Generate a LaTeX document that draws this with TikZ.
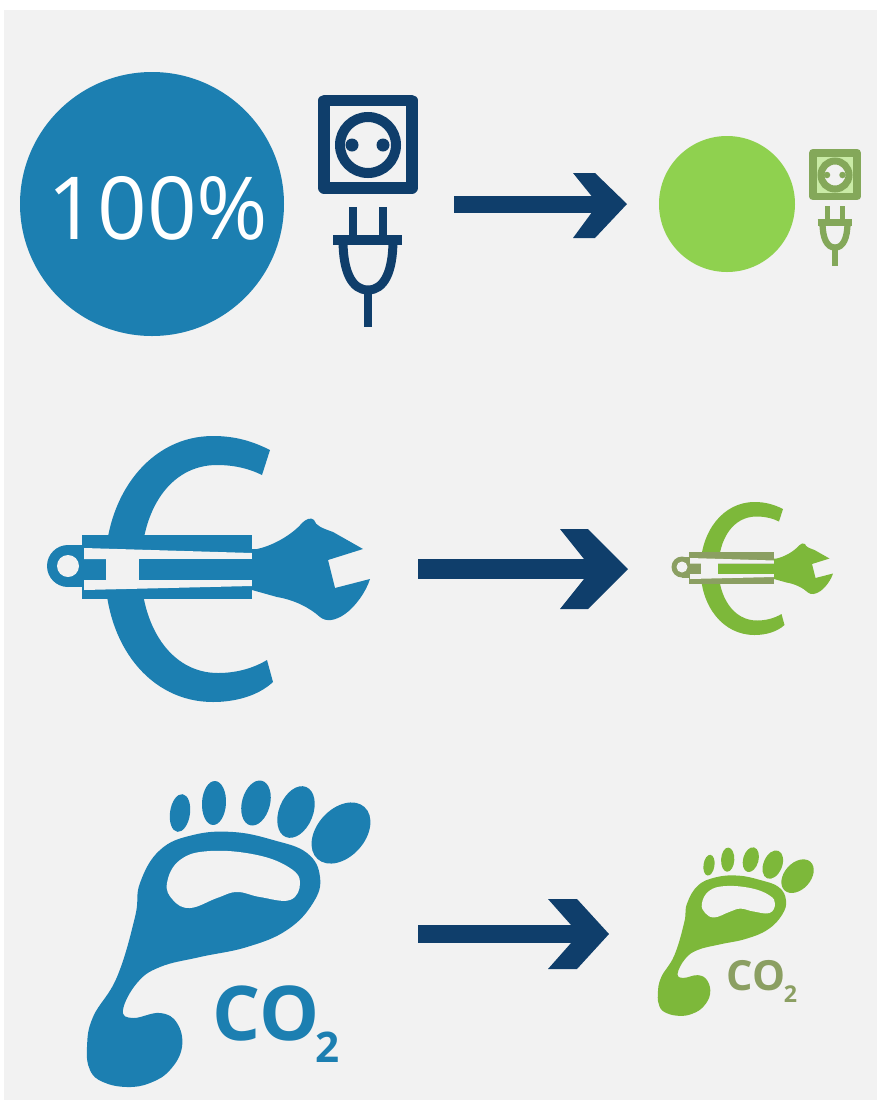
\documentclass[tikz,border=0pt]{standalone}
\usepackage{fontspec}
\setsansfont{Open Sans}

\definecolor{panelgray}{HTML}{F2F2F2}
\definecolor{iconblue}{HTML}{1C7FB1}
\definecolor{navyblue}{HTML}{0F3E6B}
\definecolor{leafgreen}{HTML}{7DB83A}
\definecolor{lightgreen}{HTML}{8FD14F}
\definecolor{olivetext}{HTML}{8B9F62}
\definecolor{palegreen}{HTML}{84A85A}
\definecolor{socketgreen}{HTML}{C9EBA6}

\tikzset{
    flow/.style={draw=navyblue,line cap=butt},
    flowhead/.style={fill=navyblue,draw=none},
}

% socket and plug, #1 colour, #2 size, #3 socket fill
\newcommand{\socketplug}[3]{
    \draw[#1,fill=#3,line width=#2*6.3pt,line join=round](324,100.5) rectangle (412,188);
    \draw[#1,fill=panelgray,line width=#2*5.7pt](368,145) circle (28);
    \fill[#1](352,145) circle (6.5);
    \fill[#1](383,145) circle (6.5);
    \draw[#1,line width=#2*4.8pt](353,207) -- (353,240);
    \draw[#1,line width=#2*4.8pt](383,207) -- (383,240);
    \draw[#1,line width=#2*5.4pt](333,240) -- (402,240);
    \draw[#1,line width=#2*5.1pt](343,240) .. controls (343,272) and (352,290) .. (368,290) .. controls (384,290) and (393,272) .. (393,240);
    \draw[#1,line width=#2*5.1pt](368,288) -- (368,327);
}

% euro sign with spanner, #1 colour, #2 handle colour
\newcommand{\eurowrench}[2]{
    \fill[#1](270,450) .. controls (252,441) and (235,436) .. (213,436) .. controls (150,436) and (105,495) .. (105,569) .. controls (105,645) and (150,702) .. (213,702) .. controls (235,702) and (258,696) .. (273,682) -- (267,660) .. controls (252,669) and (235,673) .. (218,673) .. controls (170,673) and (141,625) .. (141,569) .. controls (141,510) and (170,465) .. (217,465) .. controls (235,465) and (250,469) .. (262,475) -- cycle;
    \fill[#2](82,535) rectangle (252,599);
    \fill[#2](68,566) circle (21);
    \fill[#2](68,545) rectangle (84,587);
    \fill[panelgray](68,566) circle (11);
    % gaps in the handle
    \fill[panelgray](84,548) -- (252,553) -- (252,559) -- (84,559) -- cycle;
    \fill[panelgray](84,580) -- (252,580) -- (252,586) -- (84,590) -- cycle;
    \fill[panelgray](106,555) rectangle (139,584);
    \fill[#1](139,559) rectangle (253,580);
    % head
    \fill[#1](252,549) -- (257,549) .. controls (272,546) and (292,535) .. (302,523) .. controls (306,519) and (311,517) .. (314,520) .. controls (316,526) and (322,528) .. (333,532) -- (363,549) -- (328,560) -- (335,588) -- (370,579) .. controls (366,592) and (355,607) .. (345,614) .. controls (335,621) and (326,622) .. (320,617) .. controls (310,608) and (295,600) .. (277,597) -- (252,590) -- cycle;
}

% foot print, #1 colour, #2 text colour
\newcommand{\footprint}[2]{
    \fill[#1] plot[smooth cycle,tension=0.7] coordinates {(127,1087) (103,1082) (90,1070) (87,1047) (93,1017) (117,977) (135,917) (140,883) (160,850) (193,835) (233,832) (273,840) (307,853) (320,877) (313,903) (287,930) (247,947) (200,957) (160,967) (137,983) (123,1010) (133,1018) (160,1013) (177,1023) (182,1047) (170,1070) (150,1083)};
    \fill[panelgray] plot[smooth cycle,tension=0.7] coordinates {(167,883) (180,860) (210,851) (257,855) (290,868) (300,883) (290,900) (260,897) (237,892) (217,898) (190,908) (173,900)};
    % toes
    \fill[#1](180,813) ellipse [x radius=10,y radius=19,rotate=-8];
    \fill[#1](214,803) ellipse [x radius=12,y radius=22,rotate=-3];
    \fill[#1](256,803) ellipse [x radius=14,y radius=23,rotate=-15];
    \fill[#1](296,812) ellipse [x radius=17,y radius=27,rotate=-22];
    \fill[#1](341,833) ellipse [x radius=24,y radius=35,rotate=-42];
    \node[#2,font=\sffamily\bfseries\fontsize{43}{43}\selectfont,transform shape,inner sep=0pt] (co) at (266,1013) {CO};
    \node[#2,font=\sffamily\bfseries\fontsize{24}{24}\selectfont,transform shape,inner sep=0pt] (two) at (328,1047) {2};
}

\begin{document}
\begin{tikzpicture}[x=0.02cm,y=-0.02cm]

    \useasboundingbox (0,0) rectangle (877,1103);
    \fill[panelgray](4,10) rectangle (877,1100);

    % power row
    \fill[iconblue](152,204) circle (132);
    \node[white,font=\sffamily\fontsize{49.5}{50}\selectfont,inner sep=0pt] (percent) at (158,208) {100\%};
    \socketplug{navyblue}{1}{panelgray}
    \fill[lightgreen](727,204) circle (68);
    \begin{scope}[shift={(651,102.5)},scale=0.5]
        \socketplug{palegreen}{0.7}{socketgreen}
    \end{scope}
    \coordinate (powerstart) at (454,204.5);
    \coordinate (powerneck) at (603,204.5);
    \coordinate (powerend) at (627,204);
    \draw[flow,line width=9.7pt] (powerstart) -- (powerneck);
    \fill[flowhead] (powerend) -- ++(-32,-31) -- ++(-22,0) -- ++(25,31) -- ++(-25,34) -- ++(22,0) -- cycle;

    % cost row
    \eurowrench{iconblue}{iconblue}
    \begin{scope}[shift={(648,284)},scale=0.5]
        \eurowrench{leafgreen}{olivetext}
    \end{scope}
    \coordinate (coststart) at (418,569);
    \coordinate (costneck) at (600,569);
    \coordinate (costend) at (628,569);
    \draw[flow,line width=11.4pt] (coststart) -- (costneck);
    \fill[flowhead] (costend) -- ++(-40,-40) -- ++(-28,0) -- ++(32,40) -- ++(-32,40) -- ++(28,0) -- cycle;

    % carbon row
    \begin{scope}[name prefix=big-]
        \footprint{iconblue}{iconblue}
    \end{scope}
    \begin{scope}[name prefix=small-,shift={(610,418)},scale=0.55]
        \footprint{leafgreen}{olivetext}
    \end{scope}
    \coordinate (carbonstart) at (418,934);
    \coordinate (carbonneck) at (586,934);
    \coordinate (carbonend) at (609,934);
    \draw[flow,line width=10.2pt] (carbonstart) -- (carbonneck);
    \fill[flowhead] (carbonend) -- ++(-32,-35) -- ++(-29,0) -- ++(31,35) -- ++(-31,35) -- ++(29,0) -- cycle;

\end{tikzpicture}
\end{document}
